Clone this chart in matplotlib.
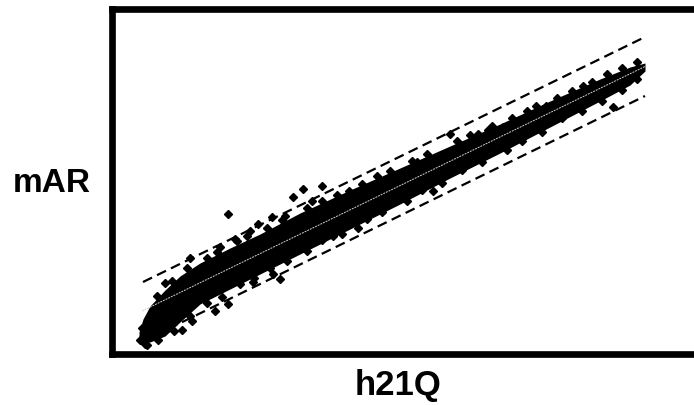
import numpy as np
import matplotlib
matplotlib.use("Agg")
import matplotlib.pyplot as plt

# ---------------------------------------------------------------------------
# Dados (unidades arbitrarias)
# ---------------------------------------------------------------------------

# envelope da nuvem densa de pontos
faixaX = [2.7, 3.1, 3.8, 5.3, 6.8, 8.8, 11.8, 14.8, 18.8, 23.8, 28.8, 33.8, 38.8, 43.8, 48.8, 51.8, 53.3]
faixaSup = [2.2, 3.5, 4.8, 6.4, 7.8, 9.1, 10.6, 12.0, 14.1, 16.4, 18.6, 20.8, 23.0, 25.3, 27.5, 28.7, 29.1]
faixaInf = [1.5, 1.2, 1.2, 1.8, 3.2, 5.0, 6.5, 8.0, 10.0, 12.5, 15.0, 17.6, 20.1, 22.7, 25.3, 26.9, 28.3]

# pontos isolados e bordas da nuvem
pontosX = [11.6, 18.1, 19.1, 21.0, 23.7, 5.3, 6.1, 7.0, 8.0, 10.3, 11.6, 14.1, 16.1, 16.8,
           22.1, 24.6, 7.8, 8.6, 10.8, 12.3, 13.5, 14.6, 16.0, 17.3, 20.0, 33.8, 36.6, 37.6,
           39.1, 42.4, 43.4, 45.5, 47.1, 48.0, 30.5, 32.1, 50.1,
           4.5, 6.0, 7.5, 9.5, 10.5, 12.5, 13.8, 15.5, 17.0, 19.5, 21.0, 22.5, 25.0, 26.5,
           27.8, 30.0, 31.5, 34.5, 35.8, 38.0, 40.0, 41.5, 44.5, 46.0, 49.5, 51.0, 52.5,
           3.5, 4.6, 6.2, 7.8, 9.5, 11.0, 12.8, 14.2, 15.8, 17.5, 19.5, 21.0, 23.0, 25.5,
           27.0, 29.5, 31.0, 33.0, 35.0, 37.0, 39.5, 41.0, 43.0, 45.0, 47.0, 49.0, 51.0, 52.5,
           2.8, 3.0, 3.3]
pontosY = [14.0, 15.7, 16.5, 16.8, 16.3, 7.1, 6.6, 2.4, 3.3, 4.3, 5.0, 7.2, 8.0, 7.5,
           11.8, 12.6, 9.6, 8.4, 10.7, 11.5, 11.8, 13.0, 13.7, 13.8, 15.3, 22.0, 22.0, 22.4,
           22.7, 24.8, 24.8, 25.5, 26.8, 27.2, 19.2, 16.3, 24.7,
           5.8, 7.3, 8.6, 9.6, 10.2, 11.3, 12.3, 12.6, 13.4, 14.6, 15.3, 15.9, 17.0, 17.8,
           18.3, 19.3, 20.0, 21.3, 21.9, 22.8, 23.6, 24.3, 25.6, 26.3, 28.0, 28.6, 29.2,
           0.9, 1.4, 2.3, 3.8, 5.1, 5.7, 7.0, 7.6, 8.6, 9.3, 10.3, 11.4, 12.0, 13.5,
           14.2, 15.3, 16.4, 17.1, 18.4, 19.2, 20.4, 21.3, 22.2, 23.6, 24.3, 25.3, 26.4, 27.5,
           1.4, 2.6, 1.0]

# reta ajustada e limites (extremos)
retaX = [3.0, 53.3]
retaY = [4.3, 28.75]
limSupX = [3.1, 53.3]
limSupY = [7.2, 31.7]
limInfX = [5.6, 53.3]
limInfY = [2.5, 25.8]

# ---------------------------------------------------------------------------
# Grafico
# ---------------------------------------------------------------------------

fig = plt.figure(figsize=(6.94, 4.06), dpi=100)
ax = fig.add_axes([112 / 694, 51 / 406, 582 / 694, 345 / 406])

ax.fill_between(faixaX, faixaInf, faixaSup, color="black", linewidth=0)
ax.plot(pontosX, pontosY, linestyle="None", marker="D", markersize=3.6, color="black")
ax.plot(retaX, retaY, color="#d0d0d0", linewidth=0.7, dashes=(2, 1))
ax.plot(limSupX, limSupY, color="black", linewidth=1.6, dashes=(4.5, 2.5))
ax.plot(limInfX, limInfY, color="black", linewidth=1.6, dashes=(4.5, 2.5))

ax.set_xlim(0, 58.2)
ax.set_ylim(0, 34.5)
ax.set_xticks([])
ax.set_yticks([])
for lado in ["left", "top", "bottom"]:
    ax.spines[lado].set_linewidth(4.8)
ax.spines["right"].set_visible(False)

fig.text(52 / 694, 1 - 183 / 406, "mAR", family="Liberation Sans", weight="bold",
         fontsize=24, ha="center", va="center")
fig.text(398 / 694, 1 - 386 / 406, "h21Q", family="Liberation Sans", weight="bold",
         fontsize=25, ha="center", va="center")

fig.savefig("out.png", dpi=100)
